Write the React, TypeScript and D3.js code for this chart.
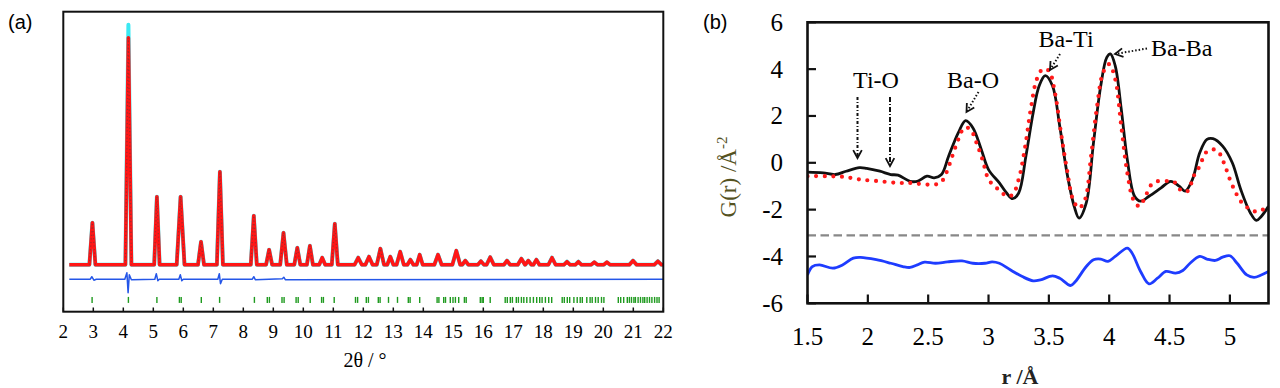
import React from "react";
import * as d3 from "d3";

// ---------- panel (a): diffraction pattern ----------
const peakPos = [2.97, 4.17, 5.12, 5.91, 6.59, 7.22, 8.35, 8.86, 9.34, 9.8, 10.22, 10.63, 11.05, 11.83, 12.19, 12.57, 12.9, 13.23, 13.57, 13.88, 14.49, 15.1, 15.4, 15.92, 16.23, 16.79, 17.27, 17.5, 17.77, 18.29, 18.79, 19.17, 19.7, 20.12, 20.99, 21.82];
const peakObs = [4.2, 22.7, 6.8, 6.8, 2.3, 9.3, 4.9, 1.5, 3.2, 1.7, 1.9, 0.7, 4.1, 0.7, 0.8, 1.6, 0.8, 1.3, 0.5, 1.0, 1.0, 1.4, 0.4, 0.35, 0.75, 0.4, 0.6, 0.4, 0.5, 0.7, 0.3, 0.3, 0.25, 0.25, 0.4, 0.35];
const peakCalc = [4.2, 24.0, 6.8, 6.8, 2.3, 9.3, 4.9, 1.5, 3.2, 1.7, 1.9, 0.7, 4.1, 0.7, 0.8, 1.6, 0.8, 1.3, 0.5, 1.0, 1.0, 1.4, 0.4, 0.35, 0.75, 0.4, 0.6, 0.4, 0.5, 0.7, 0.3, 0.3, 0.25, 0.25, 0.4, 0.35];
const peakHalfWidth = [0.1, 0.1, 0.09, 0.13, 0.1, 0.1, 0.1, 0.1, 0.11, 0.1, 0.1, 0.1, 0.1, 0.12, 0.12, 0.12, 0.1, 0.12, 0.1, 0.1, 0.12, 0.13, 0.1, 0.1, 0.12, 0.1, 0.12, 0.1, 0.1, 0.12, 0.1, 0.1, 0.1, 0.1, 0.12, 0.12];

const diffX = [2.2, 2.9, 2.95, 3.02, 3.1, 4.05, 4.12, 4.16, 4.2, 4.27, 5.05, 5.1, 5.15, 5.2, 5.85, 5.9, 5.95, 6.0, 7.15, 7.2, 7.24, 7.3, 8.3, 8.35, 8.4, 9.3, 9.35, 9.4, 22];
const diffY = [-1.45, -1.45, -1.2, -1.55, -1.45, -1.45, -0.8, -2.8, -1.0, -1.5, -1.45, -0.9, -1.6, -1.45, -1.45, -1.0, -1.6, -1.45, -1.45, -0.9, -1.9, -1.45, -1.45, -1.2, -1.5, -1.4, -1.25, -1.5, -1.45];

const reflections = [2.96, 4.17, 5.12, 5.87, 5.93, 6.6, 7.21, 8.37, 8.8, 8.87, 9.29, 9.36, 9.76, 9.83, 10.23, 10.61, 10.67, 11.03, 11.74, 11.81, 12.1, 12.17, 12.5, 12.56, 12.84, 13.14, 13.5, 13.56, 13.88, 14.46, 14.52, 14.68, 14.74, 14.9, 14.99, 15.07, 15.18, 15.37, 15.43, 15.9, 15.96, 16.0, 16.23, 16.73, 16.8, 16.9, 16.97, 17.1, 17.17, 17.27, 17.35, 17.45, 17.56, 17.67, 17.78, 17.88, 17.96, 18.07, 18.18, 18.28, 18.63, 18.7, 18.8, 18.88, 19.02, 19.13, 19.23, 19.3, 19.45, 19.56, 19.63, 19.74, 19.83, 19.94, 20.02, 20.5, 20.58, 20.68, 20.8, 20.87, 20.94, 21.02, 21.07, 21.16, 21.24, 21.32, 21.38, 21.46, 21.54, 21.62, 21.71, 21.79, 21.86];

const xTicksA = [2, 3, 4, 5, 6, 7, 8, 9, 10, 11, 12, 13, 14, 15, 16, 17, 18, 19, 20, 21, 22];

// ---------- panel (b): pair distribution function ----------
const rFit = [1.5, 1.63, 1.73, 1.82, 1.93, 1.99, 2.1, 2.19, 2.25, 2.35, 2.41, 2.49, 2.55, 2.61, 2.67, 2.75, 2.81, 2.87, 2.94, 3.0, 3.09, 3.15, 3.2, 3.25, 3.31, 3.37, 3.42, 3.47, 3.53, 3.59, 3.65, 3.71, 3.75, 3.81, 3.87, 3.93, 3.98, 4.01, 4.05, 4.1, 4.15, 4.21, 4.26, 4.33, 4.43, 4.51, 4.58, 4.63, 4.69, 4.75, 4.81, 4.86, 4.94, 5.02, 5.09, 5.17, 5.22, 5.26, 5.32];
const gFit = [-0.4, -0.43, -0.5, -0.36, -0.21, -0.24, -0.36, -0.5, -0.53, -0.79, -0.79, -0.57, -0.64, -0.5, 0.29, 1.29, 1.8, 1.5, 0.57, -0.29, -0.86, -1.29, -1.53, -1.29, 0.29, 2.14, 3.29, 3.72, 3.29, 1.57, -0.43, -1.86, -2.36, -1.71, 0.86, 3.29, 4.5, 4.65, 4.14, 2.29, 0.14, -1.43, -1.64, -1.43, -1.07, -0.79, -1.0, -1.21, -0.71, 0.43, 1.0, 1.03, 0.71, 0.0, -1.14, -2.14, -2.46, -2.29, -1.86];

const rObs = [1.5, 1.65, 1.8, 1.93, 2.1, 2.25, 2.35, 2.5, 2.6, 2.65, 2.7, 2.75, 2.8, 2.85, 2.9, 2.95, 3.0, 3.05, 3.1, 3.15, 3.2, 3.25, 3.3, 3.35, 3.4, 3.45, 3.5, 3.55, 3.6, 3.65, 3.7, 3.75, 3.8, 3.85, 3.9, 3.95, 4.0, 4.05, 4.1, 4.15, 4.2, 4.25, 4.3, 4.35, 4.4, 4.5, 4.55, 4.6, 4.65, 4.7, 4.75, 4.8, 4.85, 4.9, 4.95, 5.0, 5.05, 5.1, 5.15, 5.2, 5.25, 5.32];
const gObs = [-0.57, -0.57, -0.6, -0.71, -0.79, -0.86, -0.86, -0.93, -0.86, -0.43, 0.29, 1.0, 1.5, 1.43, 0.86, 0.14, -0.71, -1.0, -1.21, -1.43, -1.36, -0.71, 0.57, 2.29, 3.57, 4.0, 3.93, 3.0, 1.29, -0.29, -1.57, -1.93, -1.57, 0.29, 2.43, 3.86, 4.21, 3.57, 1.57, -0.43, -1.57, -1.86, -1.43, -0.93, -0.79, -0.79, -0.86, -1.21, -1.21, -0.57, -0.14, 0.43, 0.57, 0.5, 0.0, -0.71, -1.29, -1.71, -1.93, -2.07, -2.07, -1.79];

const rDiff = [1.5, 1.54, 1.6, 1.71, 1.79, 1.88, 1.94, 2.07, 2.19, 2.29, 2.35, 2.41, 2.47, 2.56, 2.66, 2.78, 2.87, 2.97, 3.03, 3.09, 3.18, 3.28, 3.37, 3.43, 3.53, 3.59, 3.68, 3.72, 3.81, 3.87, 3.93, 3.99, 4.05, 4.15, 4.19, 4.26, 4.33, 4.4, 4.47, 4.55, 4.61, 4.67, 4.75, 4.81, 4.88, 4.94, 5.0, 5.06, 5.14, 5.2, 5.26, 5.32];
const gDiff = [-4.79, -4.43, -4.36, -4.5, -4.36, -4.07, -4.04, -4.14, -4.29, -4.43, -4.47, -4.36, -4.24, -4.29, -4.23, -4.19, -4.29, -4.29, -4.23, -4.29, -4.57, -4.86, -5.04, -5.0, -4.83, -4.93, -5.24, -5.07, -4.43, -4.14, -4.11, -4.21, -4.0, -3.64, -3.86, -4.64, -5.17, -4.93, -4.64, -4.71, -4.6, -4.29, -4.0, -4.11, -4.17, -4.03, -3.97, -4.29, -4.79, -4.89, -4.79, -4.64];

const diffOffset = -3.1;
const xTicksB = [1.5, 2, 2.5, 3, 3.5, 4, 4.5, 5];
const yTicksB = [-6, -4, -2, 0, 2, 4, 6];

const serif = "Liberation Serif";
const sans = "Liberation Sans";

function profile(heights: number[]): [number, number][] {
  const pts: [number, number][] = [[2.2, 0]];
  peakPos.forEach((p, i) => {
    const w = peakHalfWidth[i];
    pts.push([p - w, 0], [p, heights[i]], [p + w, 0]);
  });
  pts.push([22, 0]);
  return pts;
}

function PanelA() {
  const x = d3.scaleLinear().domain([2, 22]).range([63.3, 663.3]);
  const y = d3.scaleLinear().domain([-4.7, 25.3]).range([311.7, 11.7]);
  const line = d3.line<[number, number]>().x(d => x(d[0])).y(d => y(d[1]));
  const obs = profile(peakObs);
  const calc = profile(peakCalc);
  const diff = diffX.map((v, i) => [v, diffY[i]] as [number, number]);

  // dark marker centres only on the taller peaks
  const markerPeaks = peakPos
    .map((p, i) => ({ p, h: peakObs[i], w: peakHalfWidth[i] }))
    .filter(d => d.h > 1.4);

  return (
    <g>
      <text x={8} y={29} fontFamily={sans} fontSize={20}>(a)</text>
      <path d={line(calc)!} fill="none" stroke="#3be8f2" strokeWidth={4} strokeLinejoin="round" />
      <path d={line(obs)!} fill="none" stroke="#ff1616" strokeWidth={3.6} strokeLinejoin="round" />
      {markerPeaks.map((d, i) => (
        <path
          key={i}
          d={line([[d.p - d.w, 0], [d.p, d.h], [d.p + d.w, 0]])!}
          fill="none"
          stroke="#8a3030"
          strokeWidth={1.3}
          strokeDasharray="1.2 2.4"
          opacity={0.75}
        />
      ))}
      <path d={line(diff)!} fill="none" stroke="#2456e8" strokeWidth={1.5} strokeLinejoin="round" />
      {reflections.map((r, i) => (
        <line key={i} x1={x(r)} x2={x(r)} y1={y(-3.22)} y2={y(-3.82)} stroke="#1f9a1f" strokeWidth={1.4} />
      ))}
      <rect x={63.3} y={11.7} width={600} height={300} fill="none" stroke="#111" strokeWidth={2} />
      {xTicksA.map(t => (
        <g key={t}>
          <line x1={x(t)} x2={x(t)} y1={311.7} y2={307.5} stroke="#111" strokeWidth={1.5} />
          <text x={x(t)} y={338} textAnchor="middle" fontFamily={serif} fontSize={19}>{t}</text>
        </g>
      ))}
      <text x={365} y={367} textAnchor="middle" fontFamily={serif} fontSize={20}>2θ / °</text>
    </g>
  );
}

function Arrow({ x1, y1, x2, y2, dash }: { x1: number; y1: number; x2: number; y2: number; dash: string }) {
  const a = Math.atan2(y2 - y1, x2 - x1);
  const L = 9;
  const s = 0.5;
  const hx1 = x2 - L * Math.cos(a - s);
  const hy1 = y2 - L * Math.sin(a - s);
  const hx2 = x2 - L * Math.cos(a + s);
  const hy2 = y2 - L * Math.sin(a + s);
  return (
    <g stroke="#111" fill="none">
      <line x1={x1} y1={y1} x2={x2} y2={y2} strokeWidth={2} strokeDasharray={dash} />
      <path d={`M${hx1},${hy1}L${x2},${y2}L${hx2},${hy2}`} strokeWidth={1.8} />
    </g>
  );
}

function PanelB() {
  const x = d3.scaleLinear().domain([1.5, 5.32]).range([807.5, 1268.5]);
  const y = d3.scaleLinear().domain([-6, 6]).range([303.3, 22.3]);
  const line = d3
    .line<[number, number]>()
    .x(d => x(d[0]))
    .y(d => y(d[1]))
    .curve(d3.curveCatmullRom.alpha(0.5));
  const fit = rFit.map((r, i) => [r, gFit[i]] as [number, number]);
  const obs = rObs.map((r, i) => [r, gObs[i]] as [number, number]);
  const diff = rDiff.map((r, i) => [r, gDiff[i]] as [number, number]);

  return (
    <g>
      <text x={703} y={29} fontFamily={sans} fontSize={20}>(b)</text>
      <defs>
        <clipPath id="clipB">
          <rect x={807.5} y={22.3} width={461} height={281} />
        </clipPath>
      </defs>
      <g clipPath="url(#clipB)">
        <line x1={x(1.5)} x2={x(5.32)} y1={y(diffOffset)} y2={y(diffOffset)} stroke="#888" strokeWidth={2.2} strokeDasharray="8.5 4.5" />
        <path d={line(diff)!} fill="none" stroke="#1e3cff" strokeWidth={2.8} />
        <path d={line(fit)!} fill="none" stroke="#111" strokeWidth={2.8} />
        <path d={line(obs)!} fill="none" stroke="#ff1a1a" strokeWidth={4.2} strokeLinecap="round" strokeDasharray="0 8.6" />
      </g>
      <rect x={807.5} y={22.3} width={461} height={281} fill="none" stroke="#111" strokeWidth={2.6} />
      {xTicksB.map(t => (
        <g key={t}>
          <line x1={x(t)} x2={x(t)} y1={303.3} y2={294.5} stroke="#111" strokeWidth={2.2} />
          <text x={x(t)} y={345} textAnchor="middle" fontFamily={serif} fontSize={25}>{t}</text>
        </g>
      ))}
      {yTicksB.map(t => (
        <g key={t}>
          <line x1={807.5} x2={816} y1={y(t)} y2={y(t)} stroke="#111" strokeWidth={2.2} />
          <text x={783} y={y(t) + 8.5} textAnchor="end" fontFamily={serif} fontSize={25}>{t}</text>
        </g>
      ))}
      <text x={1020} y={384} textAnchor="middle" fontFamily={serif} fontSize={22} fontWeight="bold" fill="#222">r /Å</text>
      <text transform="translate(736,177) rotate(-90)" textAnchor="middle" fontFamily={serif} fontSize={23} fill="#55521f">
        G(r) /Å<tspan dy={-9} fontSize={15}>-2</tspan>
      </text>

      <text x={876} y={88} textAnchor="middle" fontFamily={serif} fontSize={24}>Ti-O</text>
      <text x={973} y={88} textAnchor="middle" fontFamily={serif} fontSize={24}>Ba-O</text>
      <text x={1066} y={47} textAnchor="middle" fontFamily={serif} fontSize={24}>Ba-Ti</text>
      <text x={1151} y={56} fontFamily={serif} fontSize={24}>Ba-Ba</text>

      <Arrow x1={857.5} y1={97} x2={857.5} y2={158} dash="3 2 1 2" />
      <Arrow x1={890} y1={97} x2={890} y2={166} dash="5 2 1 2" />
      <Arrow x1={978.5} y1={92} x2={966.5} y2={112} dash="1.5 2" />
      <Arrow x1={1060} y1={54} x2={1050} y2={70} dash="1.5 2" />
      <Arrow x1={1147} y1={48.5} x2={1115} y2={54} dash="1.5 2" />
    </g>
  );
}

export default function App() {
  return (
    <svg
      width={1280}
      height={388}
      viewBox="0 0 1280 388"
      style={{ position: "absolute", left: 0, top: 0, background: "#fff" }}
    >
      <PanelA />
      <PanelB />
    </svg>
  );
}
